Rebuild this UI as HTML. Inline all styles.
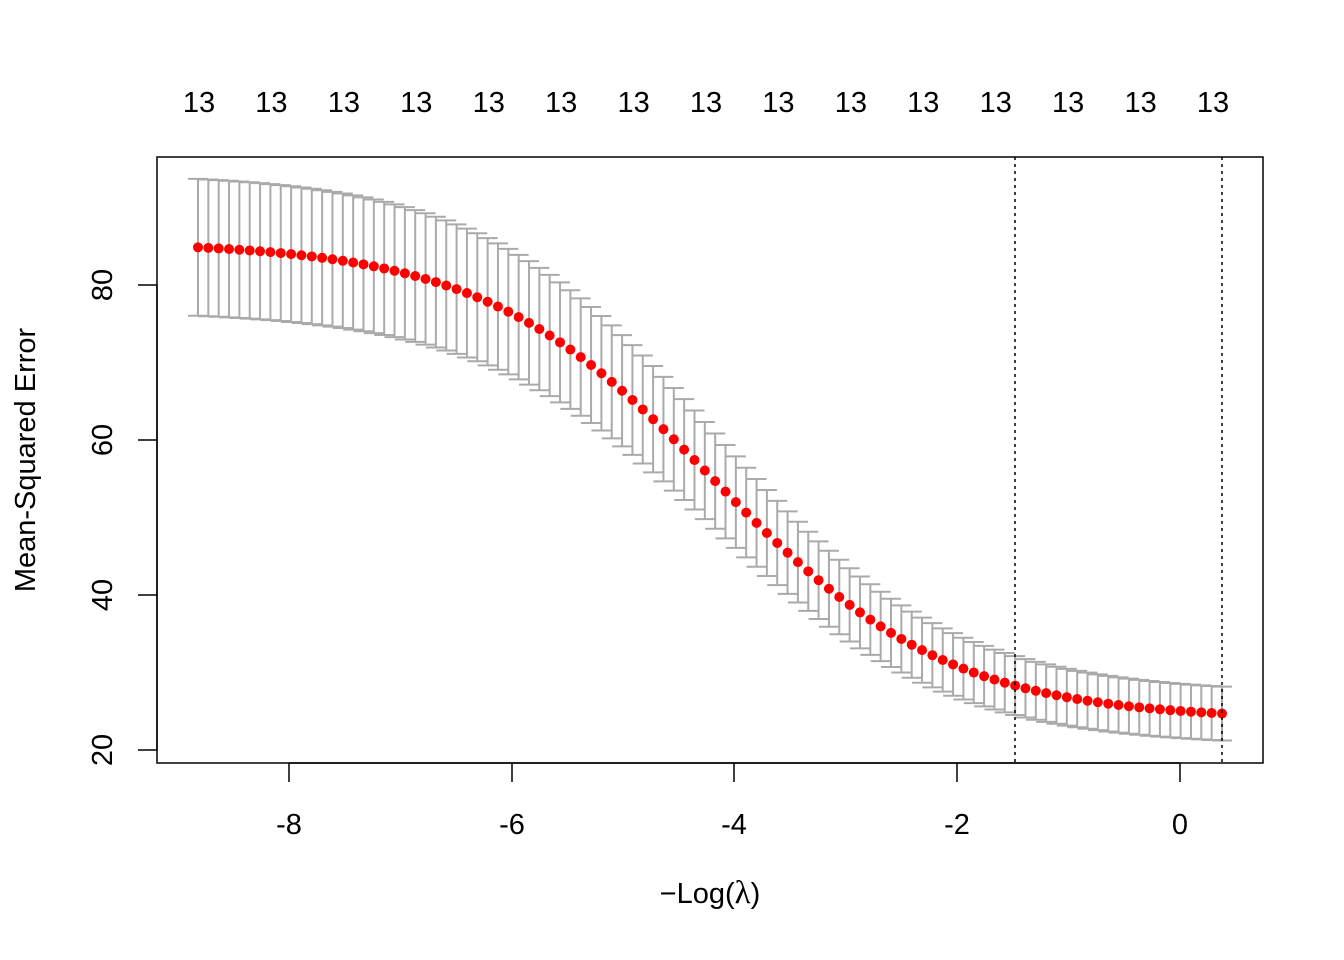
<!DOCTYPE html>
<html><head><meta charset="utf-8"><style>
html,body{margin:0;padding:0;background:#fff;}
svg{display:block;font-family:"Liberation Sans",Arial,sans-serif;}
</style></head><body>
<svg id="s" width="1344" height="960" xmlns="http://www.w3.org/2000/svg">
<rect x="157" y="157" width="1106" height="606" fill="none" stroke="#000" stroke-width="1.5"/>
<g id="bars" stroke="#aaaaaa" stroke-width="2" fill="none"></g>
<g id="pts" fill="#ff0000"></g>
<line x1="1015" y1="157" x2="1015" y2="763" stroke="#000" stroke-width="1.5" stroke-dasharray="3,4"/>
<line x1="1222" y1="157" x2="1222" y2="763" stroke="#000" stroke-width="1.5" stroke-dasharray="3,4"/>
<g stroke="#000" stroke-width="1.5">
<line x1="289" y1="763" x2="1180" y2="763"/>
<line x1="289" y1="763" x2="289" y2="782"/><line x1="512" y1="763" x2="512" y2="782"/>
<line x1="734" y1="763" x2="734" y2="782"/><line x1="957" y1="763" x2="957" y2="782"/>
<line x1="1180" y1="763" x2="1180" y2="782"/>
<line x1="157" y1="285" x2="157" y2="750"/>
<line x1="138" y1="285" x2="157" y2="285"/><line x1="138" y1="440" x2="157" y2="440"/>
<line x1="138" y1="595" x2="157" y2="595"/><line x1="138" y1="750" x2="157" y2="750"/>
</g>
<g font-size="29" text-anchor="middle" fill="#000">
<text x="289" y="834">-8</text><text x="512" y="834">-6</text><text x="734" y="834">-4</text>
<text x="957" y="834">-2</text><text x="1180" y="834">0</text>
<text transform="translate(112,285) rotate(-90)">80</text>
<text transform="translate(112,440) rotate(-90)">60</text>
<text transform="translate(112,595) rotate(-90)">40</text>
<text transform="translate(112,750) rotate(-90)">20</text>
<text transform="translate(35,460) rotate(-90)">Mean-Squared Error</text>
<text x="710" y="903">−Log(<tspan font-family="Liberation Serif,serif" font-size="33">λ</tspan>)</text>
</g>
<g id="top" font-size="29" text-anchor="middle"></g>
</svg>
<script>
var ns="http://www.w3.org/2000/svg";
function el(p,t,a){var e=document.createElementNS(ns,t);for(var k in a)e.setAttribute(k,a[k]);document.getElementById(p).appendChild(e);return e;}
var N=100,x0=198,x1=1222;
for(var i=0;i<N;i++){
 var px=x0+(x1-x0)*i/(N-1);
 var x=(px-1180)/111.3;
 var f=1/(1+Math.exp(0.95*(x+4.18)));
 var m=23.9+61.7*f;
 var se=3.4+5.5*f;
 var y=750-(m-20)*7.75, yu=750-(m+se-20)*7.75, yl=750-(m-se-20)*7.75;
 el("bars","line",{x1:px,y1:yu,x2:px,y2:yl});
 el("bars","line",{x1:px-10,y1:yu,x2:px+10,y2:yu});
 el("bars","line",{x1:px-10,y1:yl,x2:px+10,y2:yl});
 el("pts","circle",{cx:px,cy:y,r:5});
}
for(var j=0;j<15;j++){var t=el("top","text",{x:199+j*72.43,y:112});t.textContent="13";}
</script>
</body></html>
